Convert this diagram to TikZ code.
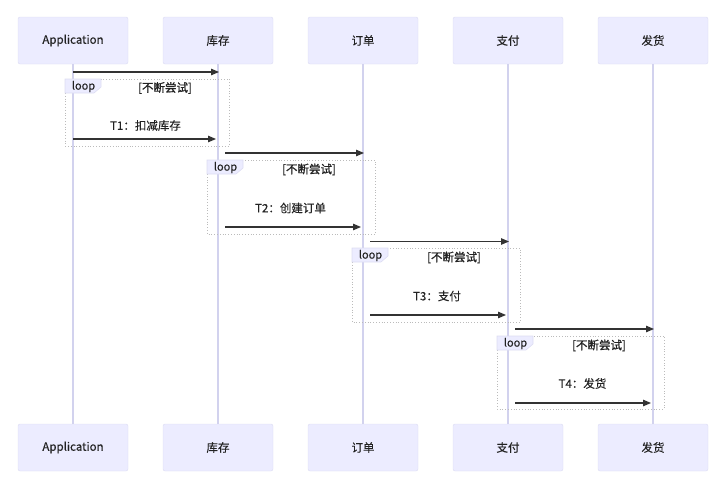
\documentclass[tikz,border=0pt]{standalone}
\usepackage{fontspec}
\setmainfont{Noto Sans CJK SC}[FakeBold=0.35]
\newfontfamily\condfont{Noto Sans CJK SC}[UprightFeatures={FakeBold=1.1}]
\usepackage{tikz}
\usepackage{xcolor}
\usetikzlibrary{arrows.meta,positioning}
\definecolor{boxfill}{HTML}{ECECFF}
\definecolor{boxline}{HTML}{DCDCF2}
\definecolor{lifeline}{HTML}{D2D2EE}
\definecolor{arrowc}{HTML}{333333}
\definecolor{loopline}{HTML}{BBBBBB}
\definecolor{txt}{HTML}{222222}

\begin{document}
\begin{tikzpicture}[x=1pt, y=-1pt,
  actor/.style={draw=boxline, fill=boxfill, rounded corners=2pt, minimum width=110pt, minimum height=47pt, inner sep=0pt, font=\fontsize{11.5}{13}\selectfont, text=txt},
  life/.style={draw=lifeline, line width=1.2pt},
  msg/.style={draw=arrowc, line width=1.2pt, -{Triangle[length=8pt,width=6.5pt]}},
  loopbox/.style={draw=loopline, dotted, line width=0.8pt},
  looptab/.style={draw=boxline, fill=boxfill, line width=0.6pt},
  tablbl/.style={font=\fontsize{11}{13}\selectfont, text=txt, inner sep=0pt},
  condlbl/.style={font=\condfont\fontsize{11.5}{13}\selectfont, text=txt, inner sep=0pt},
  msglbl/.style={font=\fontsize{11.5}{13}\selectfont, text=txt, inner sep=0pt}
]
\useasboundingbox (0,0) rectangle (720,490);
% participants, top and bottom
\node[actor] (app) at (73,40.5) {Application};
\node[actor] (kc) at (218,40.5) {库存};
\node[actor] (dd) at (363,40.5) {订单};
\node[actor] (zf) at (508,40.5) {支付};
\node[actor] (fh) at (653,40.5) {发货};
\node[actor] (appB) at (73,447.5) {Application};
\node[actor] (kcB) at (218,447.5) {库存};
\node[actor] (ddB) at (363,447.5) {订单};
\node[actor] (zfB) at (508,447.5) {支付};
\node[actor] (fhB) at (653,447.5) {发货};
% lifelines
\draw[life] (app.south) -- (appB.north);
\draw[life] (kc.south) -- (kcB.north);
\draw[life] (dd.south) -- (ddB.north);
\draw[life] (zf.south) -- (zfB.north);
\draw[life] (fh.south) -- (fhB.north);
% T1: Application -> 库存
\coordinate (p1a) at (73,72);
\coordinate (p1b) at (219,72);
\draw[msg] (p1a) -- (p1b);
\draw[loopbox] (65,79) rectangle (229,146);
\draw[looptab] (65,79) -- ++(36,0) -- ++(0,8) -- ++(-7,6) -- ++(-29,0) -- cycle;
\node[tablbl] (tab1) at (83.5,86.5) {loop};
\node[condlbl] (cond1) at (165,88) {[不断尝试]};
\node[msglbl] (t1) at (145.5,125.5) {T1：扣减库存};
\coordinate (m1a) at (73,139);
\coordinate (m1b) at (216,139);
\draw[msg] (m1a) -- (m1b);
% T2: 库存 -> 订单
\coordinate (p2a) at (225,153);
\coordinate (p2b) at (364,153);
\draw[msg] (p2a) -- (p2b);
\draw[loopbox] (207,160) rectangle (375,234);
\draw[looptab] (207,160) -- ++(36,0) -- ++(0,8) -- ++(-7,6) -- ++(-29,0) -- cycle;
\node[tablbl] (tab2) at (225.5,167.5) {loop};
\node[condlbl] (cond2) at (309,169.5) {[不断尝试]};
\node[msglbl] (t2) at (290.5,208) {T2：创建订单};
\coordinate (m2a) at (225,227);
\coordinate (m2b) at (361,227);
\draw[msg] (m2a) -- (m2b);
% T3: 订单 -> 支付
\coordinate (p3a) at (370,241.5);
\coordinate (p3b) at (509,241.5);
\draw[msg] (p3a) -- (p3b);
\draw[loopbox] (352,248) rectangle (520,322);
\draw[looptab] (352,248) -- ++(36,0) -- ++(0,8) -- ++(-7,6) -- ++(-29,0) -- cycle;
\node[tablbl] (tab3) at (370.5,255.5) {loop};
\node[condlbl] (cond3) at (454,257.5) {[不断尝试]};
\node[msglbl] (t3) at (437,296) {T3：支付};
\coordinate (m3a) at (370,315);
\coordinate (m3b) at (506,315);
\draw[msg] (m3a) -- (m3b);
% T4: 支付 -> 发货
\coordinate (p4a) at (515,329);
\coordinate (p4b) at (654,329);
\draw[msg] (p4a) -- (p4b);
\draw[loopbox] (497,336) rectangle (664,409);
\draw[looptab] (497,336) -- ++(36,0) -- ++(0,8) -- ++(-7,6) -- ++(-29,0) -- cycle;
\node[tablbl] (tab4) at (515.5,343.5) {loop};
\node[condlbl] (cond4) at (599,345.5) {[不断尝试]};
\node[msglbl] (t4) at (582.5,383.5) {T4：发货};
\coordinate (m4a) at (515,403);
\coordinate (m4b) at (651,403);
\draw[msg] (m4a) -- (m4b);
\end{tikzpicture}
\end{document}
